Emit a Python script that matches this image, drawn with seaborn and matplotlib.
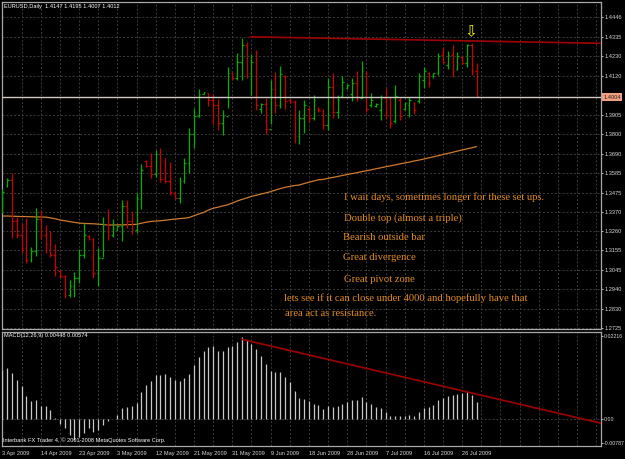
import numpy as np
import pandas as pd
import seaborn as sns
import matplotlib.pyplot as plt
import matplotlib.transforms as mtransforms

# ---- values (bar index 0 = 3 Apr 2009) ----
opens = [1.3370, 1.3510, 1.3545, 1.3320, 1.3240, 1.3170, 1.3100, 1.3150, 1.3330, 1.3240,
         1.3190, 1.3130, 1.3040, 1.3010, 1.2910, 1.2960, 1.3000, 1.3130, 1.3235, 1.3215,
         1.3030, 1.3110, 1.3300, 1.3240, 1.3270, 1.3290, 1.3400, 1.3320, 1.3270, 1.3440,
         1.3650, 1.3625, 1.3580, 1.3690, 1.3600, 1.3540, 1.3475, 1.3445, 1.3540, 1.3640,
         1.3800, 1.3900, 1.4023, 1.4025, 1.3990, 1.3960, 1.3860, 1.3900, 1.4140, 1.4110,
         1.4200, 1.4290, 1.4140, 1.4200, 1.3940, 1.3965, 1.3830, 1.4050, 1.3960, 1.4120,
         1.3990, 1.3975, 1.3790, 1.3890, 1.3940, 1.3890, 1.3945, 1.3930, 1.3850, 1.4060,
         1.3920, 1.4010, 1.4055, 1.4020, 1.4080, 1.4000, 1.4140, 1.3960, 1.3955, 1.3930,
         1.4000, 1.3960, 1.3870, 1.3990, 1.3940, 1.3960, 1.3970, 1.3980, 1.4100, 1.4140,
         1.4120, 1.4135, 1.4240, 1.4180, 1.4240, 1.4160, 1.4225, 1.4195, 1.4290, 1.4147]
highs = [1.3495, 1.3556, 1.3583, 1.3340, 1.3306, 1.3334, 1.3173, 1.3390, 1.3378, 1.3295,
         1.3262, 1.3190, 1.3046, 1.3018, 1.2990, 1.3035, 1.3162, 1.3306, 1.3240, 1.3223,
         1.3168, 1.3340, 1.3384, 1.3329, 1.3295, 1.3434, 1.3434, 1.3373, 1.3473, 1.3633,
         1.3656, 1.3694, 1.3711, 1.3722, 1.3667, 1.3644, 1.3478, 1.3561, 1.3667, 1.3833,
         1.3944, 1.4049, 1.4033, 1.4027, 1.4021, 1.3994, 1.3933, 1.4171, 1.4143, 1.4249,
         1.4332, 1.4310, 1.4243, 1.4265, 1.3972, 1.3999, 1.4099, 1.4143, 1.4177, 1.4127,
         1.3994, 1.3988, 1.3933, 1.3988, 1.3949, 1.4016, 1.3949, 1.3938, 1.4110, 1.4138,
         1.4016, 1.4121, 1.4077, 1.4110, 1.4149, 1.4204, 1.4149, 1.4027, 1.3972, 1.4016,
         1.4055, 1.4005, 1.4071, 1.4005, 1.3977, 1.4005, 1.3977, 1.4138, 1.4171, 1.4143,
         1.4138, 1.4249, 1.4282, 1.4260, 1.4293, 1.4254, 1.4232, 1.4299, 1.4304, 1.4195]
lows = [1.3362, 1.3506, 1.3223, 1.3223, 1.3140, 1.3085, 1.3090, 1.3123, 1.3218, 1.3140,
        1.3118, 1.3013, 1.3001, 1.2891, 1.2896, 1.2896, 1.2974, 1.3112, 1.3212, 1.3001,
        1.2957, 1.3118, 1.3212, 1.3229, 1.3268, 1.3207, 1.3279, 1.3245, 1.3251, 1.3384,
        1.3617, 1.3556, 1.3561, 1.3534, 1.3528, 1.3462, 1.3439, 1.3417, 1.3528, 1.3583,
        1.3722, 1.3894, 1.4021, 1.3955, 1.3855, 1.3822, 1.3794, 1.3944, 1.4099, 1.4099,
        1.4099, 1.4110, 1.4016, 1.3933, 1.3916, 1.3800, 1.3855, 1.3916, 1.3944, 1.3938,
        1.3972, 1.3750, 1.3744, 1.3805, 1.3866, 1.3877, 1.3922, 1.3827, 1.3822, 1.3888,
        1.3888, 1.4005, 1.4049, 1.3983, 1.3983, 1.3999, 1.3922, 1.3949, 1.3949, 1.3877,
        1.3888, 1.3833, 1.3861, 1.3877, 1.3933, 1.3894, 1.3911, 1.3972, 1.4055, 1.4060,
        1.4110, 1.4127, 1.4193, 1.4160, 1.4116, 1.4154, 1.4188, 1.4171, 1.4127, 1.4007]
closes = [1.3480, 1.3545, 1.3320, 1.3240, 1.3170, 1.3100, 1.3150, 1.3330, 1.3240, 1.3190,
          1.3130, 1.3060, 1.3010, 1.2910, 1.2960, 1.3000, 1.3130, 1.3240, 1.3215, 1.3030,
          1.3110, 1.3300, 1.3240, 1.3280, 1.3290, 1.3400, 1.3320, 1.3270, 1.3440, 1.3600,
          1.3625, 1.3580, 1.3690, 1.3550, 1.3540, 1.3480, 1.3445, 1.3540, 1.3640, 1.3800,
          1.3900, 1.4020, 1.4030, 1.3990, 1.3960, 1.3860, 1.3900, 1.4140, 1.4110, 1.4200,
          1.4290, 1.4140, 1.4200, 1.3960, 1.3965, 1.3830, 1.4050, 1.3960, 1.4130, 1.3980,
          1.3975, 1.3790, 1.3890, 1.3960, 1.3890, 1.3990, 1.3930, 1.3850, 1.4060, 1.3920,
          1.3990, 1.4090, 1.4070, 1.4080, 1.4000, 1.4150, 1.3940, 1.3990, 1.3968, 1.4000,
          1.3920, 1.3860, 1.4010, 1.3900, 1.3970, 1.3990, 1.3930, 1.4120, 1.4150, 1.4080,
          1.4135, 1.4230, 1.4200, 1.4240, 1.4150, 1.4230, 1.4195, 1.4290, 1.4147, 1.4012]
ma = [1.3345, 1.3345, 1.3344, 1.3343, 1.3342, 1.3342, 1.3341, 1.3340, 1.3340, 1.3339,
      1.3335, 1.3330, 1.3323, 1.3319, 1.3314, 1.3310, 1.3306, 1.3304, 1.3303, 1.3302,
      1.3300, 1.3298, 1.3296, 1.3295, 1.3296, 1.3296, 1.3297, 1.3298, 1.3299, 1.3305,
      1.3311, 1.3315, 1.3317, 1.3319, 1.3322, 1.3325, 1.3328, 1.3331, 1.3333, 1.3337,
      1.3347, 1.3356, 1.3365, 1.3378, 1.3388, 1.3394, 1.3401, 1.3407, 1.3417, 1.3428,
      1.3437, 1.3445, 1.3454, 1.3460, 1.3467, 1.3473, 1.3480, 1.3489, 1.3497, 1.3504,
      1.3509, 1.3514, 1.3517, 1.3525, 1.3532, 1.3539, 1.3546, 1.3548, 1.3554, 1.3559,
      1.3564, 1.3570, 1.3575, 1.3580, 1.3585, 1.3591, 1.3596, 1.3601, 1.3607, 1.3612,
      1.3618, 1.3623, 1.3628, 1.3634, 1.3639, 1.3644, 1.3650, 1.3655, 1.3661, 1.3667,
      1.3673, 1.3679, 1.3686, 1.3692, 1.3698, 1.3705, 1.3711, 1.3717, 1.3723, 1.3730]
macd = [0.0130, 0.0136, 0.0121, 0.0103, 0.0087, 0.0061, 0.0048, 0.0050, 0.0034, 0.0034,
        0.0023, 0.0001, -0.0014, -0.0026, -0.0044, -0.0057, -0.0050, -0.0039, -0.0026, -0.0035,
        -0.0029, -0.0017, -0.0005, 0.0000, 0.0010, 0.0028, 0.0030, 0.0034, 0.0043, 0.0072,
        0.0090, 0.0101, 0.0117, 0.0117, 0.0119, 0.0112, 0.0103, 0.0101, 0.0108, 0.0119,
        0.0143, 0.0166, 0.0182, 0.0192, 0.0195, 0.0182, 0.0182, 0.0192, 0.0195, 0.0206,
        0.0217, 0.0210, 0.0199, 0.0185, 0.0167, 0.0146, 0.0128, 0.0126, 0.0126, 0.0112,
        0.0099, 0.0074, 0.0054, 0.0052, 0.0047, 0.0039, 0.0037, 0.0025, 0.0034, 0.0032,
        0.0034, 0.0038, 0.0045, 0.0050, 0.0050, 0.0057, 0.0045, 0.0039, 0.0032, 0.0028,
        0.0018, 0.0007, 0.0007, 0.0006, 0.0007, 0.0009, 0.0007, 0.0018, 0.0028, 0.0032,
        0.0037, 0.0050, 0.0056, 0.0061, 0.0062, 0.0066, 0.0068, 0.0070, 0.0063, 0.00448]

date_labels = ["3 Apr 2009", "14 Apr 2009", "23 Apr 2009", "3 May 2009", "12 May 2009",
               "21 May 2009", "31 May 2009", "9 Jun 2009", "18 Jun 2009", "28 Jun 2009",
               "7 Jul 2009", "16 Jul 2009", "26 Jul 2009"]
price_ticks = [1.4446, 1.4335, 1.4230, 1.4120, 1.3905, 1.3800, 1.3690, 1.3585, 1.3475,
               1.3370, 1.3260, 1.3155, 1.3045, 1.2940, 1.2830, 1.2725]
hline_price = 1.4004
trend_x = [51.7, 125]
trend_y = [1.4338, 1.4302]
macd_trend_x = [50, 125]
macd_trend_y = [0.0212, -0.0012]

notes = ["I wait days, sometimes longer for these set ups.",
         "Double top (almost a triple)",
         "Bearish outside bar",
         "Great divergence",
         "Great pivot zone",
         "lets see if it can close under 4000 and hopefully have that",
         "area act as resistance."]

df = pd.DataFrame({"bar": np.arange(len(closes)), "open": opens, "high": highs,
                   "low": lows, "close": closes, "ma": ma, "macd": macd})
up = df["close"] >= df["open"]

sns.set_theme(style="dark", rc={"axes.facecolor": "black", "figure.facecolor": "black",
                                "axes.edgecolor": "#a8a8a8", "text.color": "white",
                                "xtick.color": "#d8d8d8", "ytick.color": "#d8d8d8"})
plt.rcParams["font.family"] = ["Liberation Sans", "DejaVu Sans"]

GREEN = "#00b000"
RED = "#c80000"
GRID = "#3c3c3c"
NOTE = "#e38b22"
LBL = 4.1

fig = plt.figure(figsize=(6.25, 4.59), dpi=100)
W, H = 625, 459
ax = fig.add_axes([2 / W, 1 - 329 / H, 599 / W, 327 / H])
ax2 = fig.add_axes([2 / W, 1 - 446 / H, 599 / W, 114 / H], sharex=ax)

# grid
for a in (ax, ax2):
    for xg in range(4, 125, 4):
        a.axvline(xg, color=GRID, lw=0.7, ls=(0, (2, 2)), zorder=0)
for p in price_ticks:
    ax.axhline(p, color=GRID, lw=0.7, ls=(0, (2, 2)), zorder=0)
ax2.axhline(0, color=GRID, lw=0.7, ls=(0, (2, 2)), zorder=0)

# OHLC bars
for mask, col in ((up, GREEN), (~up, RED)):
    d = df[mask]
    ax.vlines(d["bar"], d["low"], d["high"], color=col, lw=0.9, zorder=3)
    ax.hlines(d["open"], d["bar"] - 0.35, d["bar"], color=col, lw=0.9, zorder=3)
    ax.hlines(d["close"], d["bar"], d["bar"] + 0.35, color=col, lw=0.9, zorder=3)

# moving average
sns.lineplot(data=df, x="bar", y="ma", ax=ax, color="#cc7a2e", lw=0.9, zorder=2)

# horizontal line + trend line
ax.axhline(hline_price, color="#d0c8c4", lw=1.0, zorder=4)
sns.lineplot(x=trend_x, y=trend_y, ax=ax, color="#a00000", lw=1.2, zorder=4)

# yellow arrow above the outside bar
ax.text(97.8, highs[98] + 0.0064, "\u21e9", color="#ffff00", fontsize=11,
        ha="center", va="center", family="DejaVu Sans", zorder=5)

ax.set_xlim(-0.1, 125)
ax.set_ylim(1.2719, 1.4531)
ax.yaxis.tick_right()
ax.set_yticks(price_ticks)
ax.set_yticklabels([f"{p:.4f}" for p in price_ticks])
ax.tick_params(axis="y", length=1.5, width=0.6, pad=1.2, labelsize=LBL, colors="#d8d8d8")
ax.tick_params(axis="x", length=0, labelbottom=False)
ax.set_xlabel("")
ax.set_ylabel("")

# current level box on the price axis
trans = mtransforms.blended_transform_factory(ax.transAxes, ax.transData)
ax.text(1.004, hline_price, f"{hline_price:.4f}", transform=trans, fontsize=LBL,
        color="#202020", va="center", ha="left",
        bbox=dict(boxstyle="square,pad=0.25", fc="#f2a080", ec="none"))

# MACD histogram
ax2.vlines(df["bar"], 0, df["macd"], color="#c8c8c8", lw=0.9, zorder=3)
sns.lineplot(x=macd_trend_x, y=macd_trend_y, ax=ax2, color="#a00000", lw=1.2, zorder=4)
ax2.set_ylim(-0.00729, 0.02315)
ax2.yaxis.tick_right()
ax2.set_yticks([0.02216, 0.0, -0.0065])
ax2.set_yticklabels(["0.02216", "0.00", "-0.00787"])
ax2.tick_params(axis="y", length=1.5, width=0.6, pad=0.8, labelsize=3.8, colors="#d8d8d8")
ax2.set_xticks(range(0, 100, 8))
ax2.set_xticklabels(date_labels, ha="left")
ax2.tick_params(axis="x", length=2, width=0.6, pad=1.5, labelsize=LBL, colors="#d8d8d8")
ax2.set_xlabel("")
ax2.set_ylabel("")

for a in (ax, ax2):
    for s in a.spines.values():
        s.set_color("#a8a8a8")
        s.set_linewidth(0.9)
    if a.get_legend():
        a.get_legend().remove()

# header texts
fig.text(4 / W, 1 - 6.5 / H, "EURUSD,Daily  1.4147 1.4195 1.4007 1.4012",
         fontsize=LBL, color="white", va="center")
fig.text(4 / W, 1 - 336 / H, "MACD(12,26,9) 0.00448 0.00574",
         fontsize=LBL, color="white", va="center")
fig.text(3 / W, 1 - 440 / H,
         "Interbank FX Trader 4, \u00a9 2001-2008 MetaQuotes Software Corp.",
         fontsize=LBL, color="white", va="center")

# orange notes
note_pos = [(344, 197), (344, 218), (343, 237), (343, 258), (344, 279), (284, 298), (285, 314)]
for txt, (px, py) in zip(notes, note_pos):
    fig.text(px / W, 1 - py / H, txt, fontsize=7.7, color=NOTE, va="center",
             family=["Liberation Serif", "DejaVu Serif"])

fig.savefig("out.png", dpi=100, facecolor="black")
